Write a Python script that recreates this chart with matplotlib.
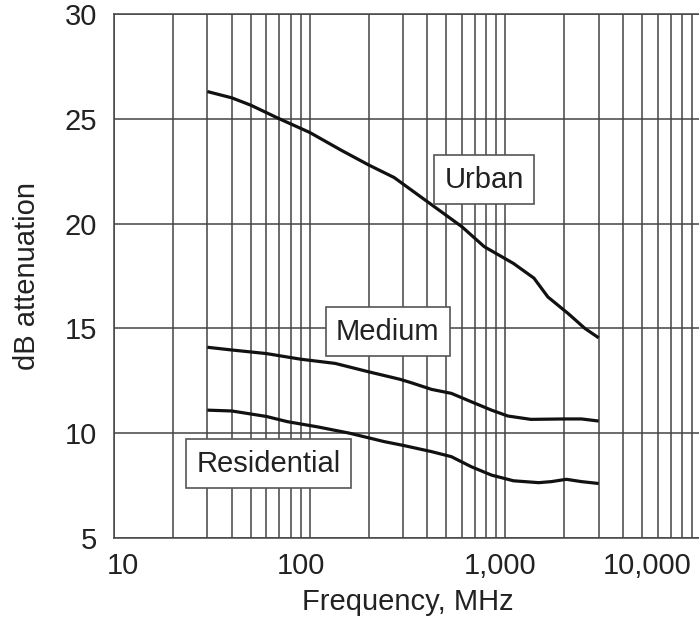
import matplotlib
matplotlib.use("Agg")
import matplotlib.pyplot as plt
from matplotlib.ticker import LogLocator, NullFormatter, FixedLocator, FixedFormatter
from matplotlib.transforms import ScaledTranslation

plt.rcParams['font.family'] = ['Liberation Sans', 'DejaVu Sans']

# Data (frequency in MHz, attenuation in dB)
urban_freq = [30, 40, 50, 70, 100, 145, 200, 270, 420, 600, 780, 1100, 1400, 1650, 2100, 2550, 3000]
urban_db = [26.3, 26.0, 25.65, 25.0, 24.35, 23.5, 22.8, 22.2, 20.9, 19.85, 18.9, 18.1, 17.4, 16.5, 15.7, 15.0, 14.55]

medium_freq = [30, 40, 60, 90, 135, 200, 290, 330, 420, 530, 670, 850, 1030, 1350, 2000, 2450, 3000]
medium_db = [14.1, 13.97, 13.8, 13.53, 13.33, 12.93, 12.57, 12.41, 12.09, 11.9, 11.5, 11.1, 10.82, 10.66, 10.68, 10.68, 10.58]

resid_freq = [30, 40, 60, 77, 110, 160, 240, 300, 420, 530, 670, 850, 1100, 1480, 1720, 2050, 2450, 3000]
resid_db = [11.1, 11.06, 10.8, 10.55, 10.3, 10.0, 9.6, 9.42, 9.12, 8.88, 8.4, 8.0, 7.73, 7.64, 7.69, 7.8, 7.69, 7.6]

x_ticks = [10, 100, 1000, 10000]
x_labels = ['10', '100', '1,000', '10,000']
y_ticks = [5, 10, 15, 20, 25, 30]

# label boxes: (text, freq, dB)
labels = [('Urban', 780, 22.1), ('Medium', 251, 14.85), ('Residential', 61.6, 8.55)]

fig = plt.figure(figsize=(6.99, 6.38), dpi=100)
ax = fig.add_axes([114 / 699, 1 - 538 / 638, 587 / 699, 524 / 638])

grid_col = '#444444'
for xs, ys in [(urban_freq, urban_db), (medium_freq, medium_db), (resid_freq, resid_db)]:
    ax.plot(xs, ys, color='#111111', lw=2.3, solid_joinstyle='round', solid_capstyle='butt', zorder=2)

ax.set_xscale('log')
ax.set_xlim(10, 10000)
ax.set_ylim(5, 30)

ax.xaxis.set_major_locator(FixedLocator(x_ticks))
ax.xaxis.set_major_formatter(FixedFormatter(x_labels))
ax.xaxis.set_minor_locator(LogLocator(base=10, subs=range(2, 10)))
ax.xaxis.set_minor_formatter(NullFormatter())
ax.set_yticks(y_ticks)

ax.set_axisbelow(True)
ax.grid(True, which='both', axis='x', color=grid_col, lw=1.1)
ax.grid(True, which='major', axis='y', color=grid_col, lw=1.1)

ax.tick_params(which='both', length=0, labelsize=21, colors='#222222')
ax.tick_params(axis='x', pad=10)
ax.tick_params(axis='y', pad=12)

for s in ['left', 'bottom', 'top']:
    ax.spines[s].set_color(grid_col)
    ax.spines[s].set_linewidth(1.1)
ax.spines['right'].set_visible(False)

# shift tick labels a little, as in the original
shifts = [9, -9, -5, -54]
for lab, dx in zip(ax.get_xticklabels(), shifts):
    lab.set_transform(lab.get_transform() + ScaledTranslation(dx / 100, 0, fig.dpi_scale_trans))

ax.set_xlabel('Frequency, MHz', fontsize=21, color='#222222', labelpad=6)
ax.set_ylabel('dB attenuation', fontsize=21, color='#222222', labelpad=17)

for txt, fx, fy in labels:
    ax.text(fx, fy, txt, fontsize=21, color='#222222', ha='center', va='center', zorder=4,
            bbox=dict(boxstyle='square,pad=0.35', fc='white', ec='#555555', lw=1.2))

fig.savefig('out.png', dpi=100)
